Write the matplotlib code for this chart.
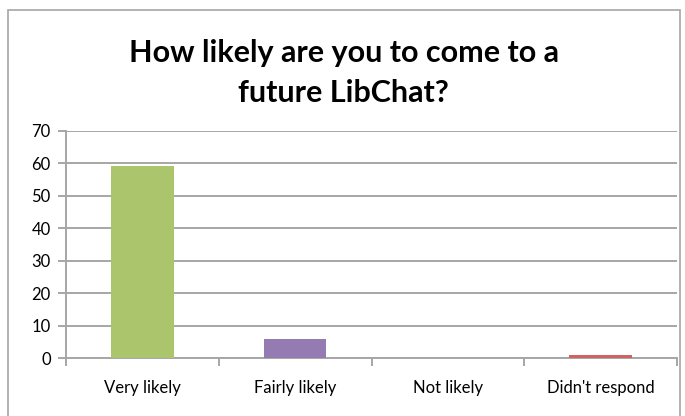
import matplotlib.pyplot as plt
from matplotlib.patches import Rectangle
import numpy as np

# Datos del grafico
categorias = ["Very likely", "Fairly likely", "Not likely", "Didn't respond"]
respuestas = [59, 6, 0, 1]
colores = ['#ABC56D', '#947BB2', '#9BBB59', '#CF6262']
ticks_y = [0, 10, 20, 30, 40, 50, 60, 70]
titulo = ["How likely are you to come to a", "future LibChat?"]

plt.rcParams['font.family'] = ['Lato', 'DejaVu Sans']

fig = plt.figure(figsize=(6.85, 4.16), dpi=100)
ax = fig.add_axes([0.0964, 0.139, 0.892, 0.547])

x = np.arange(len(categorias))
ax.bar(x, respuestas, width=0.41, color=colores, zorder=3)

ax.set_xlim(-0.5, len(categorias) - 0.5)
ax.set_ylim(0, 70)
ax.set_yticks(ticks_y)
ax.set_yticklabels([str(t) for t in ticks_y], fontsize=12)
ax.yaxis.grid(True, color='#A6A6A6', linewidth=1.4, zorder=0)

ax.set_xticks(x)
ax.set_xticklabels(categorias, fontsize=12)
ax.set_xticks(np.arange(len(categorias) + 1) - 0.5, minor=True)
ax.tick_params(axis='x', which='major', length=0, pad=16)
ax.tick_params(axis='x', which='minor', length=6, color='#A6A6A6', width=1.4)
ax.tick_params(axis='y', length=6, color='#A6A6A6', width=1.4, pad=5)

for lado in ['top', 'right']:
    ax.spines[lado].set_visible(False)
for lado in ['left', 'bottom']:
    ax.spines[lado].set_color('#A6A6A6')
    ax.spines[lado].set_linewidth(1.4)

# Titulo en dos lineas
fig.text(0.502, 1 - 62 / 416, titulo[0], ha='center', va='baseline',
         fontsize=22, fontweight='bold')
fig.text(0.502, 1 - 102 / 416, titulo[1], ha='center', va='baseline',
         fontsize=22, fontweight='bold')

# Borde exterior del grafico
borde = Rectangle((8 / 685, -0.1), 672 / 685, 1.1 - 10 / 416,
                  transform=fig.transFigure, fill=False,
                  edgecolor='#A6A6A6', linewidth=1.2, clip_on=False)
fig.patches.append(borde)

fig.savefig('out.png', dpi=100)
